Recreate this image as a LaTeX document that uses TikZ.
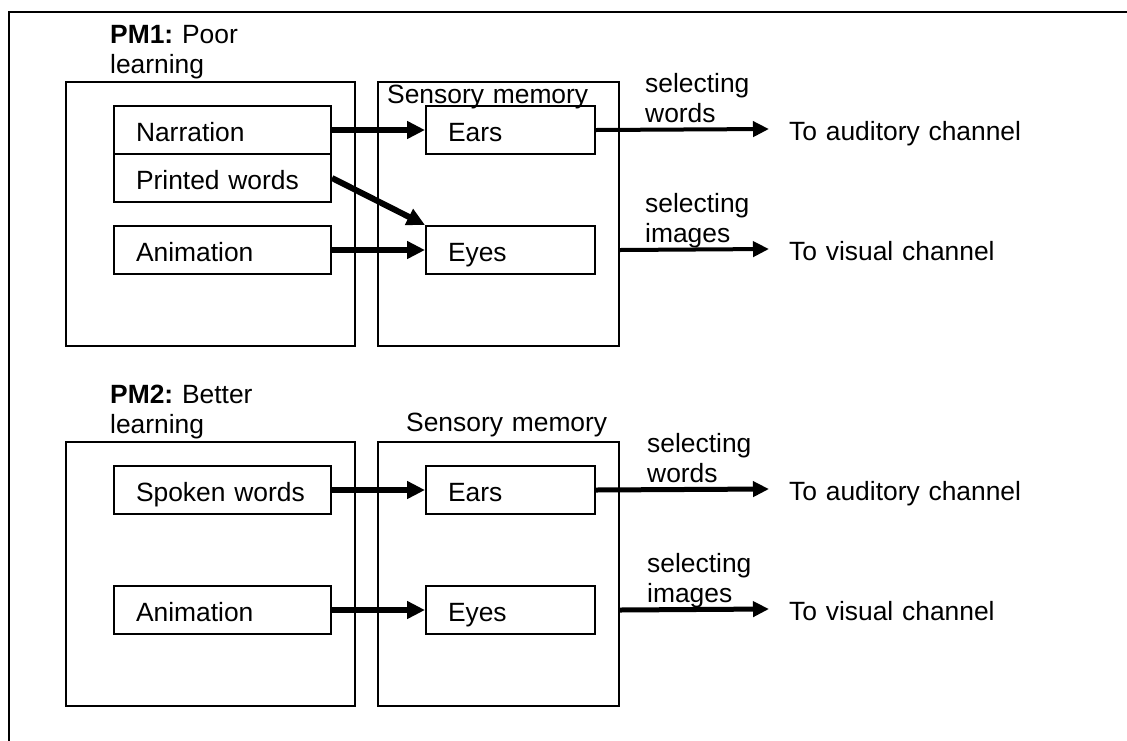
\documentclass[tikz,border=0pt]{standalone}
\usepackage{fontspec}
\setmainfont{Liberation Sans}
\usetikzlibrary{arrows.meta}
\frenchspacing
\begin{document}
\begin{tikzpicture}[x=1pt,y=-1pt,
  every node/.style={font=\fontsize{26.4}{30}\selectfont},
  thin line/.style={line width=2pt},
  panelbox/.style={draw, thin line, anchor=north west, inner sep=0pt, minimum height=264pt},
  itembox/.style={draw, thin line, anchor=north west, minimum height=48pt, inner xsep=22pt, inner ysep=0pt,
    text height=23pt, text depth=0pt, align=left},
  txt/.style={anchor=base west, inner sep=0pt, text width=#1, align=left},
  txt/.default=300pt,
  inarrow/.style={line width=6pt, -{Triangle[length=18pt,width=17pt]}},
  outarrow/.style={line width=#1, -{Triangle[length=16pt,width=15pt]}},
]
\useasboundingbox (0,0) rectangle (1127,740);
\fill[white] (0,0) rectangle (1127,740);
% outer frame (top and left edges visible)
\coordinate (fbl) at (9,741);
\coordinate (ftl) at (9,12);
\coordinate (ftr) at (1128,12);
\draw[line width=2.2pt] (fbl) -- (ftl) -- (ftr);

% ---------------- PM1 ----------------
\node[txt=240pt] (pm1) at (110,43) {\textbf{PM1:} Poor\\learning};
\node[panelbox, minimum width=289pt] (lp1) at (65,81) {};
\node[panelbox, minimum width=241pt] (sm1) at (377,81) {};
\node[txt] (sm1lbl) at (387,103) {Sensory memory};
\node[itembox, text width=173pt] (narr) at (113,105) {Narration};
\node[itembox, text width=173pt] (print) at (113,153) {Printed words};
\node[itembox, text width=173pt] (anim1) at (113,225) {Animation};
\node[itembox, text width=125pt] (ears1) at (425,105) {Ears};
\node[itembox, text width=125pt] (eyes1) at (425,225) {Eyes};
\draw[inarrow] (narr.east) -- (ears1.west);
\draw[inarrow] (print.east) -- (eyes1.north west);
\draw[inarrow] (anim1.east) -- (eyes1.west);
\node[txt] (sel1) at (645,92) {selecting\\words};
\node[txt] (sel2) at (645,212) {selecting\\images};
\node[txt] (aud1) at (789,140) {To auditory channel};
\node[txt] (vis1) at (789,260) {To visual channel};
\coordinate (aud1tip) at (769,129);
\coordinate (vis1tip) at (769,249);
\draw[outarrow=4pt] (ears1.east) -- (aud1tip);
\draw[outarrow=4pt] (sm1.east |- eyes1.east) -- (vis1tip);

% ---------------- PM2 ----------------
\node[txt=240pt] (pm2) at (110,403) {\textbf{PM2:} Better\\learning};
\node[panelbox, minimum width=289pt] (lp2) at (65,441) {};
\node[panelbox, minimum width=241pt] (sm2) at (377,441) {};
\node[txt] (sm2lbl) at (406,431) {Sensory memory};
\node[itembox, text width=173pt] (spoken) at (113,465) {Spoken words};
\node[itembox, text width=173pt] (anim2) at (113,585) {Animation};
\node[itembox, text width=125pt] (ears2) at (425,465) {Ears};
\node[itembox, text width=125pt] (eyes2) at (425,585) {Eyes};
\draw[inarrow] (spoken.east) -- (ears2.west);
\draw[inarrow] (anim2.east) -- (eyes2.west);
\node[txt] (sel3) at (647,452) {selecting\\words};
\node[txt] (sel4) at (647,572) {selecting\\images};
\node[txt] (aud2) at (789,500) {To auditory channel};
\node[txt] (vis2) at (789,620) {To visual channel};
\coordinate (aud2tip) at (769,489);
\coordinate (vis2tip) at (769,609);
\draw[outarrow=5pt] (ears2.east) -- (aud2tip);
\draw[outarrow=5pt] (sm2.east |- eyes2.east) -- (vis2tip);
\end{tikzpicture}
\end{document}
